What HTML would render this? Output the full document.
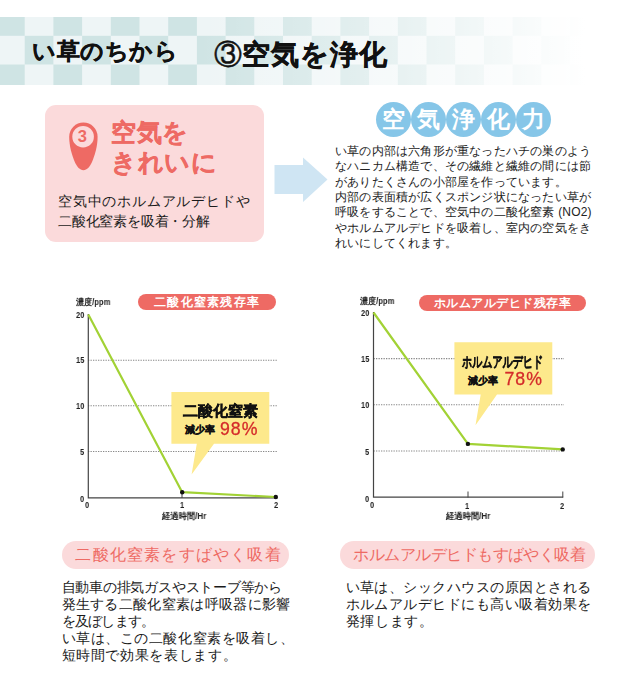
<!DOCTYPE html>
<html lang="ja">
<head>
<meta charset="utf-8">
<title>い草のちから ③空気を浄化</title>
<style>
html,body{margin:0;padding:0;background:#fff;}
body{width:640px;height:687px;position:relative;overflow:hidden;font-family:"Liberation Sans",sans-serif;color:#1a1a1a;}
.abs{position:absolute;white-space:nowrap;line-height:1;}
.banner{position:absolute;left:0;top:17px;width:640px;height:67.5px;overflow:hidden;}
.banner svg{position:absolute;left:0;top:0;}
.banner .fade{position:absolute;left:0;top:0;width:640px;height:68px;background:linear-gradient(to right,rgba(255,255,255,0) 0px,rgba(255,255,255,0) 200px,rgba(255,255,255,1) 585px,#fff 640px);}
.h1{left:32px;top:39.8px;font-size:23px;font-weight:bold;color:#111;letter-spacing:0.5px;-webkit-text-stroke:0.4px #111;}
.h2{left:214.5px;top:41px;font-size:28px;font-weight:bold;color:#111;letter-spacing:1px;-webkit-text-stroke:0.5px #111;}
.c3{font-weight:normal;font-size:28px;-webkit-text-stroke:0.55px #111;letter-spacing:-0.4px;position:relative;left:-0.5px;top:0px;}
.pinkbox{position:absolute;left:44.5px;top:105px;width:219.7px;height:137px;border-radius:11px;background:#fbdadb;}
.coral{color:#ee6a64;}
.pt{font-size:25px;font-weight:bold;letter-spacing:0.5px;-webkit-text-stroke:0.4px #ee6a64;}
.pb{font-size:14px;color:#1a1a1a;}
.circ{position:absolute;top:101.6px;width:35px;height:35px;border-radius:50%;background:#86c6e8;color:#fff;font-size:23px;font-weight:bold;text-align:center;line-height:34px;}
.para{font-size:12px;color:#222;letter-spacing:0.2px;}
.pill{position:absolute;height:16px;border-radius:8px;background:#ee6a64;color:#fff;font-size:11.5px;font-weight:bold;line-height:16px;text-align:center;white-space:nowrap;}
.ax{font-size:9.5px;font-weight:bold;color:#222;transform-origin:0 0;transform:scaleX(0.8);will-change:transform;}
.axs{font-size:8.5px;font-weight:bold;color:#222;will-change:transform;}
.bigpill{position:absolute;top:540.8px;height:27.8px;border-radius:14px;background:#fbdadb;color:#ee6a64;font-size:16px;line-height:27px;white-space:nowrap;}
.body{font-size:14px;color:#1a1a1a;}
.co1{font-size:15px;font-weight:bold;color:#111;-webkit-text-stroke:0.4px #111;will-change:transform;}
.co2{font-size:10.3px;font-weight:bold;color:#111;-webkit-text-stroke:0.3px #111;}
.co3{font-size:17.7px;color:#d42a2a;letter-spacing:1px;-webkit-text-stroke:0.3px #d42a2a;}
</style>
</head>
<body>

<!-- header banner -->
<div class="banner">
<svg width="640" height="68" viewBox="0 17 640 68">
<defs>
<pattern id="chk" x="-4" y="7.1" width="57.4" height="57.4" patternUnits="userSpaceOnUse">
<rect x="0" y="0" width="57.4" height="57.4" fill="#eef5f6"/>
<rect x="0" y="0" width="28.7" height="28.7" fill="#cfe4e4"/>
<rect x="28.7" y="28.7" width="28.7" height="28.7" fill="#cfe4e4"/>
</pattern>
</defs>
<rect x="0" y="17" width="640" height="68" fill="url(#chk)"/>
</svg>
<div class="fade"></div>
</div>
<div class="abs h1">い草のちから</div>
<div class="abs h2"><span class="c3">③</span>空気を浄化</div>

<!-- pink box -->
<div class="pinkbox"></div>
<svg style="position:absolute;left:66px;top:118px" width="36" height="56" viewBox="66 118 36 56">
<path d="M69.2 136.8 A14.2 14.2 0 0 1 97.6 136.8 C97.6 146 95 155 92 162 C89.8 166.8 87 170.2 83.4 170.2 C79.8 170.2 77 166.8 74.8 162 C71.8 155 69.2 146 69.2 136.8 Z" fill="#ee6a64"/>
<circle cx="83.1" cy="136.7" r="10.8" fill="#fbdadb"/>
</svg>
<div class="abs coral" style="left:77.8px;top:127.8px;font-size:16.5px;font-weight:bold;">3</div>
<div class="abs coral pt" style="left:111px;top:120px;">空気を</div>
<div class="abs coral pt" style="left:111px;top:149.5px;">きれいに</div>
<div class="abs pb" style="left:58px;top:194px;letter-spacing:0.8px;">空気中のホルムアルデヒドや</div>
<div class="abs pb" style="left:58px;top:214px;letter-spacing:-0.2px;">二酸化窒素を吸着・分解</div>

<!-- arrow -->
<svg style="position:absolute;left:270px;top:150px" width="64" height="60" viewBox="270 150 64 60">
<path d="M274.5 165 L303 165 L303 157.5 L327.5 179.5 L303 202 L303 194 L274.5 194 Z" fill="#cfe5f3"/>
</svg>

<!-- circles title -->
<div class="circ" style="left:375.5px;">空</div>
<div class="circ" style="left:410.6px;">気</div>
<div class="circ" style="left:445.6px;">浄</div>
<div class="circ" style="left:480.7px;">化</div>
<div class="circ" style="left:515.7px;">力</div>

<!-- right paragraph -->
<div class="abs para" style="left:335px;top:145px;">い草の内部は六角形が重なったハチの巣のよう</div>
<div class="abs para" style="left:335px;top:160.3px;">なハニカム構造で、その繊維と繊維の間には節</div>
<div class="abs para" style="left:335px;top:175.7px;">がありたくさんの小部屋を作っています。</div>
<div class="abs para" style="left:335px;top:191px;">内部の表面積が広くスポンジ状になったい草が</div>
<div class="abs para" style="left:335px;top:206.4px;">呼吸をすることで、空気中の二酸化窒素 (NO2)</div>
<div class="abs para" style="left:335px;top:221.7px;">やホルムアルデヒドを吸着し、室内の空気をき</div>
<div class="abs para" style="left:335px;top:237px;">れいにしてくれます。</div>

<!-- left chart -->
<svg style="position:absolute;left:60px;top:285px" width="260" height="245" viewBox="60 285 260 245">
<g stroke="#888" stroke-width="1.1" stroke-dasharray="1.3 1.2" fill="none">
<line x1="88" y1="360.2" x2="277" y2="360.2"/>
<line x1="88" y1="405.8" x2="277" y2="405.8"/>
<line x1="88" y1="451.5" x2="277" y2="451.5"/>
</g>
<path d="M88.3 314 L88.3 497.8 L277.5 497.8" stroke="#444" stroke-width="1.2" fill="none"/>
<line x1="182" y1="492" x2="182" y2="498" stroke="#444" stroke-width="1"/>
<path d="M171.4 392 H269.3 V443.8 H214 L191.6 474.4 L196.8 443.8 H171.4 Z" fill="#fde98c"/>
<polyline points="88.3,314.5 182.2,492.2 275.8,497" stroke="#a2d235" stroke-width="2.2" fill="none" stroke-linejoin="round"/>
<circle cx="182.2" cy="492.2" r="2.2" fill="#111"/>
<circle cx="275.8" cy="497" r="2.2" fill="#111"/>
</svg>
<div class="pill" style="left:137.5px;top:294px;width:138px;letter-spacing:1.3px;text-indent:1.3px;">二酸化窒素残存率</div>
<div class="abs axs" style="left:76px;top:298px;transform-origin:0 0;transform:scaleX(0.9);">濃度/ppm</div>
<div class="abs ax" style="left:76px;top:309.5px;">20</div>
<div class="abs ax" style="left:76px;top:355.3px;">15</div>
<div class="abs ax" style="left:76px;top:401px;">10</div>
<div class="abs ax" style="left:80px;top:446.7px;">5</div>
<div class="abs ax" style="left:80px;top:493.5px;">0</div>
<div class="abs ax" style="left:85px;top:500.3px;">0</div>
<div class="abs ax" style="left:179.7px;top:500.3px;">1</div>
<div class="abs ax" style="left:273.5px;top:500.3px;">2</div>
<div class="abs axs" style="left:162px;top:512px;transform-origin:0 0;transform:scaleX(0.925);">経過時間/Hr</div>
<div class="abs co1" style="left:183px;top:403px;">二酸化窒素</div>
<div class="abs co2" style="left:184.5px;top:424.5px;">減少率</div>
<div class="abs co3" style="left:220px;top:421px;">98%</div>

<!-- right chart -->
<svg style="position:absolute;left:340px;top:285px" width="270" height="245" viewBox="340 285 270 245">
<g stroke="#888" stroke-width="1.1" stroke-dasharray="1.3 1.2" fill="none">
<line x1="373.5" y1="358.6" x2="564" y2="358.6"/>
<line x1="373.5" y1="404.8" x2="564" y2="404.8"/>
<line x1="373.5" y1="451" x2="564" y2="451"/>
</g>
<path d="M373.5 312 L373.5 497.2 L563.2 497.2" stroke="#444" stroke-width="1.2" fill="none"/>
<line x1="468" y1="491.5" x2="468" y2="497.5" stroke="#444" stroke-width="1"/>
<line x1="562.8" y1="491.5" x2="562.8" y2="497.5" stroke="#444" stroke-width="1"/>
<path d="M454.4 342.2 H552.3 V394.5 H497 L475.5 425.2 L480.7 394.5 H454.4 Z" fill="#fde98c"/>
<polyline points="373.5,312.5 467.9,443.9 562.7,449.4" stroke="#a2d235" stroke-width="2.2" fill="none" stroke-linejoin="round"/>
<circle cx="467.9" cy="443.9" r="2.2" fill="#111"/>
<circle cx="562.7" cy="449.4" r="2.2" fill="#111"/>
</svg>
<div class="pill" style="left:418.8px;top:295.3px;width:167px;letter-spacing:0.5px;text-indent:0.5px;">ホルムアルデヒド残存率</div>
<div class="abs axs" style="left:360px;top:296.5px;transform-origin:0 0;transform:scaleX(0.9);">濃度/ppm</div>
<div class="abs ax" style="left:360.5px;top:308px;">20</div>
<div class="abs ax" style="left:360.5px;top:354px;">15</div>
<div class="abs ax" style="left:360.5px;top:400.3px;">10</div>
<div class="abs ax" style="left:365.3px;top:446.5px;">5</div>
<div class="abs ax" style="left:364.5px;top:493.7px;">0</div>
<div class="abs ax" style="left:370px;top:499.5px;">0</div>
<div class="abs ax" style="left:465px;top:500.5px;">1</div>
<div class="abs ax" style="left:559.5px;top:500.5px;">2</div>
<div class="abs axs" style="left:446px;top:512px;transform-origin:0 0;transform:scaleX(0.925);">経過時間/Hr</div>
<div class="abs co1" style="left:462px;top:354px;transform-origin:0 0;transform:scaleX(0.675);">ホルムアルデヒド</div>
<div class="abs co2" style="left:468px;top:375.5px;">減少率</div>
<div class="abs co3" style="left:504.5px;top:371px;">78%</div>

<!-- bottom left -->
<div class="bigpill" style="left:61.8px;width:227.5px;"><span style="position:absolute;left:13.6px;letter-spacing:1.2px;">二酸化窒素をすばやく吸着</span></div>
<div class="abs body" style="left:61.5px;top:579.5px;letter-spacing:-0.22px;">自動車の排気ガスやストーブ等から</div>
<div class="abs body" style="left:61.5px;top:596.6px;letter-spacing:0.32px;">発生する二酸化窒素は呼吸器に影響</div>
<div class="abs body" style="left:61.5px;top:613.8px;letter-spacing:-0.72px;">を及ぼします。</div>
<div class="abs body" style="left:61.5px;top:630.9px;letter-spacing:0.56px;">い草は、この二酸化窒素を吸着し、</div>
<div class="abs body" style="left:61.5px;top:648.1px;letter-spacing:0.64px;">短時間で効果を表します。</div>

<!-- bottom right -->
<div class="bigpill" style="left:339.7px;width:255px;"><span style="position:absolute;left:13.8px;letter-spacing:-0.55px;">ホルムアルデヒドもすばやく吸着</span></div>
<div class="abs body" style="left:345.5px;top:579.5px;letter-spacing:0.49px;">い草は、シックハウスの原因とされる</div>
<div class="abs body" style="left:345.5px;top:596.6px;letter-spacing:0.48px;">ホルムアルデヒドにも高い吸着効果を</div>
<div class="abs body" style="left:345.5px;top:613.8px;letter-spacing:0.7px;">発揮します。</div>

</body>
</html>
